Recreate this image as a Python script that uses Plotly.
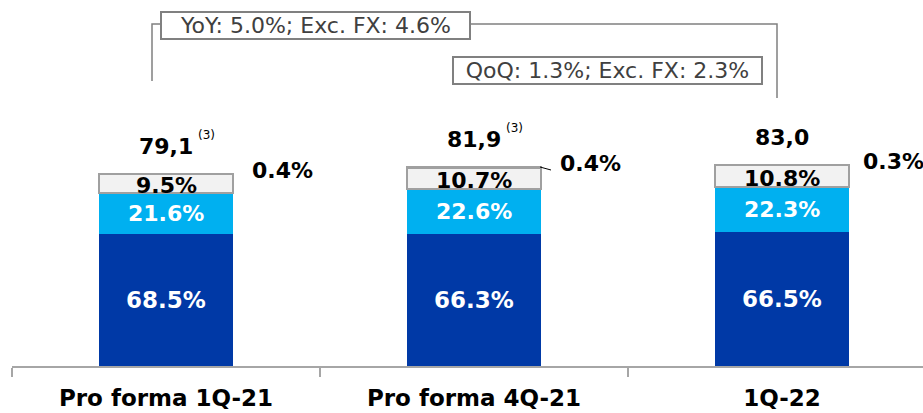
import plotly.graph_objects as go

categories = ["Pro forma 1Q-21", "Pro forma 4Q-21", "1Q-22"]
totals = [79.1, 81.9, 83.0]
share_dark = [68.5, 66.3, 66.5]
share_light = [21.6, 22.6, 22.3]
share_gray = [9.5, 10.7, 10.8]
share_other = [0.4, 0.4, 0.3]
footnotes = ["(3)", "(3)", ""]
yoy_text = "YoY: 5.0%; Exc. FX: 4.6%"
qoq_text = "QoQ: 1.3%; Exc. FX: 2.3%"

W, H = 923, 413
ML, MR, MT, MB = 12, 0, 0, 47
PX_PER_UNIT = 2.43
PLOT_H = H - MT - MB
YMAX = PLOT_H / PX_PER_UNIT
CAT_PX = 308
PLOT_W = W - ML - MR

DARK = "#0039A6"
LIGHT = "#00B0F0"
GRAY = "#F2F2F2"
EDGE = "#A0A0A0"
FONT = "DejaVu Sans"


def seg(shares):
    return [t * s / 100 for t, s in zip(totals, shares)]


dark = seg(share_dark)
light = seg(share_light)
gray = seg(share_gray)
other = seg(share_other)

fig = go.Figure()
fig.add_bar(x=categories, y=dark, marker=dict(color=DARK, line=dict(width=0)))
fig.add_bar(x=categories, y=light, marker=dict(color=LIGHT, line=dict(width=0)))
fig.add_bar(x=categories, y=gray, marker=dict(color=GRAY, line=dict(color=EDGE, width=1.5)))
fig.add_bar(x=categories, y=other, marker=dict(color="#FFFFFF", line=dict(color=EDGE, width=1.5)))


def px2x(px):
    return (px - ML) / PLOT_W


def py2y(py):
    return (H - MB - py) / PLOT_H


ann = []
for i, c in enumerate(categories):
    d, l, g, t = dark[i], light[i], gray[i], totals[i]
    ann.append(dict(x=c, y=d / 2, text=f"<b>{share_dark[i]:.1f}%</b>", font=dict(color="white", size=23)))
    ann.append(dict(x=c, y=d + l / 2, text=f"<b>{share_light[i]:.1f}%</b>", font=dict(color="white", size=22)))
    ann.append(dict(x=c, y=d + l + g / 2, yshift=-2, text=f"<b>{share_gray[i]:.1f}%</b>", font=dict(color="black", size=22)))
    ann.append(dict(x=c, y=t, yshift=27, text="<b>" + f"{t:.1f}".replace(".", ",") + "</b>", font=dict(color="black", size=22)))
    if footnotes[i]:
        ann.append(dict(x=c, y=t, yshift=39, xshift=40, text=footnotes[i], font=dict(color="black", size=12)))
    ann.append(dict(x=c, y=t, yshift=3, xshift=84 if i < 2 else 79, xanchor="left",
                    text=f"<b>{share_other[i]:.1f}%</b>", font=dict(color="black", size=22)))

for a in ann:
    a.update(showarrow=False, xref="x", yref="y")

# bracket boxes
box_font = dict(size=22, color="#404040")
ann.append(dict(xref="paper", yref="paper", x=px2x(315.5), y=py2y(25.5), xanchor="center", yanchor="middle",
                text=yoy_text, showarrow=False, font=box_font, bordercolor="#808080", borderwidth=2,
                borderpad=0, width=307, height=25, bgcolor="white"))
ann.append(dict(xref="paper", yref="paper", x=px2x(607.5), y=py2y(70), xanchor="center", yanchor="middle",
                text=qoq_text, showarrow=False, font=box_font, bordercolor="#808080", borderwidth=2,
                borderpad=0, width=307, height=25, bgcolor="white"))

line_style = dict(color="#808080", width=1.5)
shapes = [
    dict(type="path", xref="paper", yref="paper",
         path=f"M {px2x(152)} {py2y(81)} L {px2x(152)} {py2y(24)} L {px2x(160)} {py2y(24)}", line=line_style),
    dict(type="path", xref="paper", yref="paper",
         path=f"M {px2x(471)} {py2y(24)} L {px2x(777)} {py2y(24)} L {px2x(777)} {py2y(98)}", line=line_style),
    dict(type="line", xref="paper", yref="paper", x0=px2x(540), y0=py2y(167), x1=px2x(551), y1=py2y(170),
         line=dict(color="black", width=1)),
]

fig.update_layout(
    width=W, height=H,
    margin=dict(l=ML, r=MR, t=MT, b=MB, autoexpand=False),
    barmode="stack", bargap=1 - 134 / CAT_PX,
    showlegend=False,
    plot_bgcolor="white", paper_bgcolor="white",
    font=dict(family=FONT),
    annotations=ann, shapes=shapes,
    xaxis=dict(type="category", range=[-0.5, -0.5 + PLOT_W / CAT_PX], tickson="boundaries",
               ticks="outside", ticklen=9, tickcolor="#A6A6A6", tickwidth=1.5,
               showline=True, linecolor="#A6A6A6", linewidth=1.5, showgrid=False, automargin=False,
               ticklabelstandoff=11,
               tickfont=dict(size=23, color="black", weight="bold")),
    yaxis=dict(range=[0, YMAX], visible=False),
)

fig.write_html("out.html", config={"displayModeBar": False},
               post_script="document.body.style.margin='0';document.body.style.overflow='hidden';")
